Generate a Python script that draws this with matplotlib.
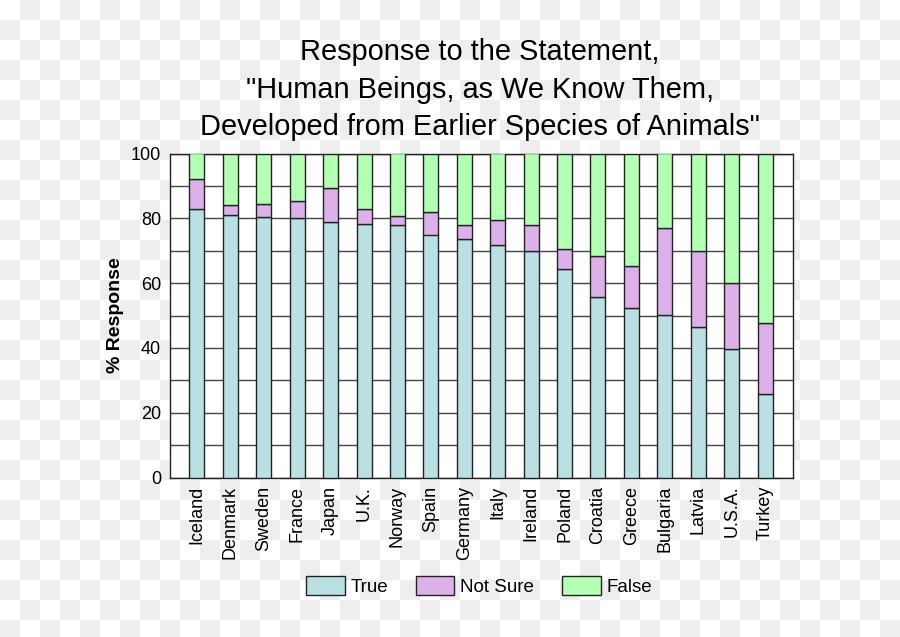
import numpy as np
import matplotlib
matplotlib.use("Agg")
import matplotlib.pyplot as plt

plt.rcParams['font.family'] = ['Liberation Sans', 'DejaVu Sans']

countries = ["Iceland", "Denmark", "Sweden", "France", "Japan", "U.K.", "Norway",
             "Spain", "Germany", "Italy", "Ireland", "Poland", "Croatia", "Greece",
             "Bulgaria", "Latvia", "U.S.A.", "Turkey"]
true_pct = [83, 81, 80.5, 80, 79, 78.3, 78, 75, 73.5, 71.7, 70, 64.4, 55.8, 52.4,
            50.2, 46.4, 39.7, 25.8]
not_sure_pct = [9, 3, 4, 5.3, 10.3, 4.5, 2.8, 7, 4.3, 7.8, 8, 6.1, 12.5, 13,
                26.8, 23.6, 20.4, 21.8]
false_pct = [100 - t - n for t, n in zip(true_pct, not_sure_pct)]

colors = {"True": "#bbe0e3", "Not Sure": "#dcb0e8", "False": "#b3ffb3"}

W, H = 900, 637
fig = plt.figure(figsize=(W / 100, H / 100), dpi=100)

# transparency checkerboard behind everything
yy, xx = np.mgrid[0:H, 0:W]
board = np.where(((xx // 20) + (yy // 20)) % 2 == 0, 1.0, 0.937)
fig.figimage(np.dstack([board] * 3), xo=0, yo=0, origin='upper', zorder=-10)

ax = fig.add_axes([169.5 / W, (H - 477.5) / H, (792.5 - 169.5) / W, (477.5 - 153.5) / H])
ax.set_zorder(1)
ax.set_facecolor("white")

x = np.arange(len(countries))
bottom2 = np.array(true_pct) + np.array(not_sure_pct)
kw = dict(width=0.45, edgecolor="#222222", linewidth=1.0, zorder=3)
ax.bar(x, true_pct, color=colors["True"], label="True", **kw)
ax.bar(x, not_sure_pct, bottom=true_pct, color=colors["Not Sure"], label="Not Sure", **kw)
ax.bar(x, false_pct, bottom=bottom2, color=colors["False"], label="False", **kw)

ax.set_xlim(-0.82, len(countries) - 1 + 0.82)
ax.set_ylim(0, 100)
ax.set_yticks(range(0, 101, 20))
ax.set_yticks(range(0, 101, 10), minor=True)
ax.yaxis.grid(True, which="both", color="#444444", linewidth=1.0, zorder=1)
ax.set_axisbelow(True)
ax.tick_params(axis="both", which="both", length=0, labelsize=13, pad=6)
ax.set_xticks(x)
ax.set_xticklabels(countries, rotation=90)
for s in ax.spines.values():
    s.set_color("#222222")
    s.set_linewidth(1.0)

ax.set_ylabel("% Response", fontsize=14, fontweight="bold", labelpad=5)

fig.text(0.533, 1 - 89.5 / H, 'Response to the Statement,\n"Human Beings, as We Know Them,\n'
         'Developed from Earlier Species of Animals"',
         ha="center", va="center", fontsize=20.9, linespacing=1.43)

leg = fig.legend(loc="center", bbox_to_anchor=(479 / W, (H - 586) / H), ncol=3,
                 frameon=False, fontsize=13.5, handlelength=2.05, handleheight=1.15,
                 handletextpad=0.3, columnspacing=1.5)

fig.savefig("out.png", dpi=100)
